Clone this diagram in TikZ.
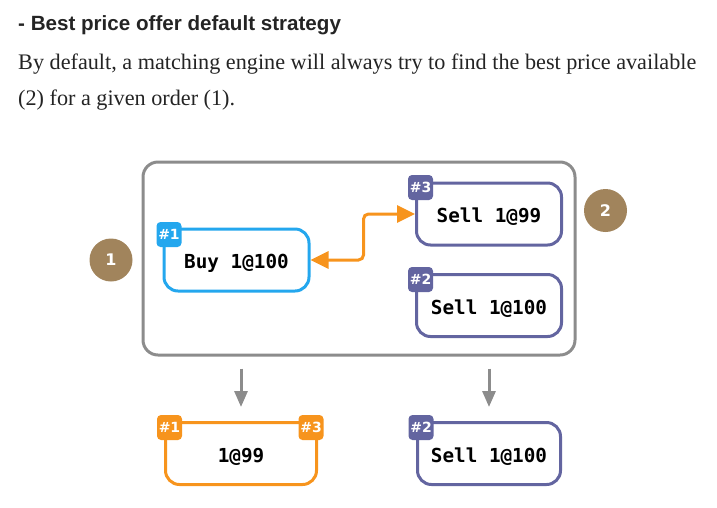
\documentclass[tikz,border=0pt]{standalone}
\usepackage{fontspec}
\setmainfont{Liberation Serif}
\setsansfont{Liberation Sans}
\setmonofont{DejaVu Sans Mono}
\newfontfamily\tagfont{DejaVu Sans}
\usetikzlibrary{arrows.meta}
\definecolor{cblue}{RGB}{36,167,238}
\definecolor{cpurple}{RGB}{99,101,160}
\definecolor{corange}{RGB}{247,148,29}
\definecolor{cgray}{RGB}{140,140,140}
\definecolor{cbrown}{RGB}{161,132,92}
\definecolor{ctext}{RGB}{36,36,36}
\tikzset{
  orderbox/.style={draw, line width=3pt, rounded corners=14pt, fill=white,
    minimum height=62pt, inner sep=0pt, text=black, text height=17pt, text depth=0pt,
    font=\fontsize{19.3}{22}\selectfont\ttfamily\bfseries},
  tagbox/.style={fill=#1, rounded corners=4pt, minimum width=25pt, minimum height=25pt,
    inner sep=0pt, text=white, font=\fontsize{14}{16}\selectfont\tagfont\bfseries},
  numdot/.style={circle, fill=cbrown, minimum size=43pt, inner sep=0pt, text=white,
    font=\fontsize{16}{18}\selectfont\tagfont\bfseries},
  outerbox/.style={draw=cgray, line width=3pt, rounded corners=15pt, minimum width=432pt,
    minimum height=193pt, inner sep=0pt},
  orangearrow/.style={draw=corange, line width=3pt, rounded corners=5pt,
    {Triangle[length=18pt,width=17pt]}-{Triangle[length=18pt,width=17pt]}},
  grayarrow/.style={draw=cgray, line width=3pt, -{Triangle[length=16pt,width=13pt]}},
}
\begin{document}
\begin{tikzpicture}[x=1pt,y=-1pt]
\useasboundingbox (0,0) rectangle (717,507);
% texts
\node[anchor=base west, inner sep=0pt, text=ctext, font=\fontsize{20.6}{26}\selectfont\sffamily\bfseries] (title) at (18,30) {- Best price offer default strategy};
\node[anchor=base west, inner sep=0pt, text=ctext, font=\fontsize{22.2}{26}\selectfont] (line1) at (18,69) {By default, a matching engine will always try to find the best price available};
\node[anchor=base west, inner sep=0pt, text=ctext, font=\fontsize{22.2}{26}\selectfont] (line2) at (18,105) {(2) for a given order (1).};
% outer frame
\node[outerbox] (outer) at (359,258.5) {};
\node[numdot] (n1) at (111,260) {1};
\node[numdot] (n2) at (605.5,210.5) {2};
% orders
\node[orderbox, draw=cblue, minimum width=145pt] (buy) at (236.5,260) {Buy 1@100};
\node[orderbox, draw=cpurple, minimum width=145pt] (s3) at (489,214) {Sell 1@99};
\node[orderbox, draw=cpurple, minimum width=145pt] (s2) at (489,305.5) {Sell 1@100};
\node[tagbox=cblue] (t1) at (169,234.5) {\#1};
\node[tagbox=cpurple] (t3) at (420.5,187.5) {\#3};
\node[tagbox=cpurple] (t2) at (420.5,279.5) {\#2};
% match arrow
\draw[orangearrow] (buy.east) -- ++(53,0) |- (s3.west);
% results
\node[orderbox, draw=corange, minimum width=151pt] (r1) at (241,453.5) {1@99};
\node[orderbox, draw=cpurple, minimum width=143pt] (r2) at (489,453.5) {Sell 1@100};
\node[tagbox=corange] (rt1) at (169.5,427.5) {\#1};
\node[tagbox=corange] (rt3) at (311,427.5) {\#3};
\node[tagbox=cpurple] (rt2) at (421,427.5) {\#2};
% flow arrows
\draw[grayarrow] ([yshift=-12pt]outer.south -| r1.north) -- ([yshift=14pt]r1.north);
\draw[grayarrow] ([yshift=-12pt]outer.south -| r2.north) -- ([yshift=14pt]r2.north);
\end{tikzpicture}
\end{document}
